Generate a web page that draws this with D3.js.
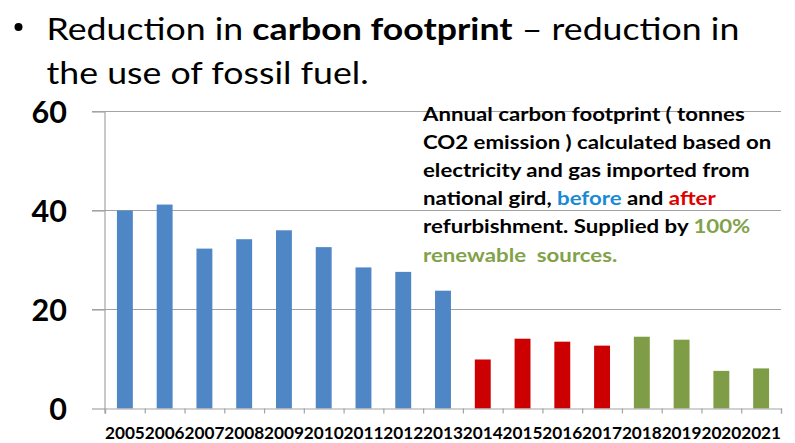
<!DOCTYPE html>
<html>
<head>
<meta charset="utf-8">
<script src="https://cdn.jsdelivr.net/npm/d3@7"></script>
<style>
  html, body { margin: 0; padding: 0; background: #fff; }
  svg { display: block; }
  text { font-family: Lato, "Open Sans", sans-serif; white-space: pre; }
</style>
</head>
<body>
<svg id="chart" width="795" height="443"></svg>
<script>
// ---- data ----
const years = ["2005","2006","2007","2008","2009","2010","2011","2012","2013",
               "2014","2015","2016","2017","2018","2019","2020","2021"];
const emissions = [40.0, 41.2, 32.3, 34.2, 36.0, 32.6, 28.5, 27.6, 23.8,
                   9.9, 14.1, 13.5, 12.7, 14.5, 13.9, 7.6, 8.1];
const phase = ["before","before","before","before","before","before","before","before","before",
               "after","after","after","after","renewable","renewable","renewable","renewable"];
const yTicks = [0, 20, 40, 60];
const phaseColors = { before: "#4f86c6", after: "#cc0000", renewable: "#7f9c47" };

const titleLine1 = [["Reduction in ", false], ["carbon footprint", true], [" \u2013 reduction in", false]];
const titleLine2 = "the use of fossil fuel.";
const noteLines = [
  [["Annual carbon footprint ( tonnes", "#000"]],
  [["CO2 emission ) calculated based on", "#000"]],
  [["electricity and gas imported from", "#000"]],
  [["national gird, ", "#000"], ["before", "#1a8ad4"], [" and ", "#000"], ["after", "#e00000"]],
  [["refurbishment. Supplied by ", "#000"], ["100%", "#82a24a"]],
  [["renewable  sources.", "#82a24a"]]
];

// ---- layout ----
const svg = d3.select("#chart");
const plotL = 105, plotR = 781, plotT = 111.5, plotB = 408.5;

const x = d3.scaleBand().domain(years).range([plotL, plotR]).paddingInner(0.6).paddingOuter(0.3);
const xEdge = d3.scaleLinear().domain([0, years.length]).range([plotL, plotR]);
const y = d3.scaleLinear().domain([0, 60]).range([plotB, plotT]);

// place a text at (tx,ty), optionally squeeze horizontally so its width matches target
function placed(tx, ty, fs) {
  return svg.append("text").attr("x", 0).attr("y", 0).attr("font-size", fs)
    .attr("transform", `translate(${tx},${ty})`);
}
function squeezeTo(sel, tx, ty, target) {
  const w = sel.node().getComputedTextLength();
  const sx = target / w;
  sel.attr("transform", `translate(${tx},${ty}) scale(${sx},1)`);
  return sx;
}

// title
svg.append("circle").attr("cx", 18.5).attr("cy", 27).attr("r", 4).attr("fill", "#000");
const t1 = placed(46.5, 39.5, 31).attr("fill", "#000");
titleLine1.forEach(([s, b]) => t1.append("tspan").text(s).attr("font-weight", b ? "bold" : "normal"));
const tsx = squeezeTo(t1, 46.5, 39.5, 693);
placed(46.5, 84, 31).attr("fill", "#000").text(titleLine2)
  .attr("transform", `translate(46.5,84) scale(${tsx},1)`);

// gridlines
svg.append("g").selectAll("line").data(yTicks.filter(d => d > 0)).join("line")
  .attr("x1", 92).attr("x2", plotR)
  .attr("y1", d => y(d)).attr("y2", d => y(d))
  .attr("stroke", "#a3a3a3").attr("stroke-width", 1.2);

// y axis
const yAxis = svg.append("g").attr("transform", `translate(${plotL},0)`)
  .call(d3.axisLeft(y).tickValues(yTicks).tickSize(13).tickPadding(25).tickFormat(d3.format("d")));
yAxis.select(".domain").remove();
yAxis.selectAll(".tick line").attr("stroke", "#a3a3a3").attr("stroke-width", 1.2);
yAxis.selectAll(".tick text").attr("font-family", "Lato, sans-serif").attr("font-size", 30.5)
  .attr("font-weight", "bold").attr("fill", "#000").attr("dy", "0.36em");
svg.append("line").attr("x1", plotL).attr("x2", plotL).attr("y1", plotT).attr("y2", plotB + 5)
  .attr("stroke", "#a3a3a3").attr("stroke-width", 1.2);

// bars
svg.append("g").selectAll("rect").data(years).join("rect")
  .attr("x", d => x(d))
  .attr("width", x.bandwidth())
  .attr("y", (d, i) => y(emissions[i]))
  .attr("height", (d, i) => y(0) - y(emissions[i]))
  .attr("fill", (d, i) => phaseColors[phase[i]]);

// x axis (ticks at category boundaries)
const xAxis = svg.append("g").attr("transform", `translate(0,${plotB})`)
  .call(d3.axisBottom(xEdge).tickValues(d3.range(years.length + 1)).tickSize(5).tickFormat(""));
xAxis.select(".domain").attr("stroke", "#a3a3a3").attr("stroke-width", 1.2);
xAxis.selectAll(".tick line").attr("stroke", "#a3a3a3").attr("stroke-width", 1.2);

const xLab = svg.append("g").attr("transform", `translate(0,${plotB})`)
  .call(d3.axisBottom(x).tickSize(0).tickPadding(0));
xLab.select(".domain").remove();
xLab.selectAll(".tick text").attr("font-family", "Lato, sans-serif").attr("font-size", 17.2)
  .attr("font-weight", "bold").attr("fill", "#000").attr("dy", null).attr("y", 30.5);

// annotation
let nsx = null;
noteLines.forEach((parts, i) => {
  const ty = 120.5 + i * 28.2;
  const t = placed(423, ty, 18.5).attr("font-weight", "bold");
  parts.forEach(([s, c]) => t.append("tspan").text(s).attr("fill", c));
  if (i === 0) nsx = squeezeTo(t, 423, ty, 322);
  else t.attr("transform", `translate(423,${ty}) scale(${nsx},1)`);
});
</script>
</body>
</html>
